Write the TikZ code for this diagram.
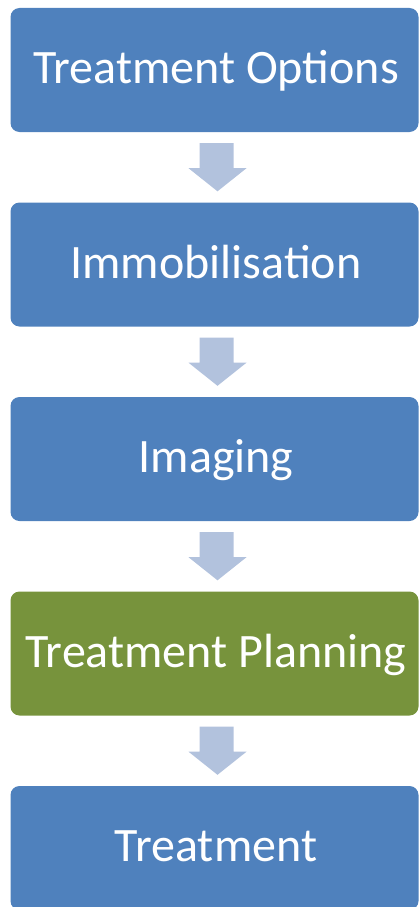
\documentclass[tikz,border=0pt]{standalone}
\usepackage{fontspec}
\setmainfont{Carlito}
\usetikzlibrary{calc}
\definecolor{stepblue}{RGB}{79,129,189}
\definecolor{stepgreen}{RGB}{119,147,60}
\definecolor{arrowblue}{RGB}{178,194,221}

\begin{document}
\begin{tikzpicture}[x=1pt,y=-1pt]
        \useasboundingbox (0,0) rectangle (419,907);
        \begin{scope}[every node/.style={rounded corners=9pt,fill=stepblue,text=white,inner sep=0pt,
                minimum width=408pt,minimum height=124pt,text height=31pt,text depth=4pt,
                font=\fontsize{48}{58}\selectfont}]
            \node (s1) at (214.5,70.0)  {\hspace{3pt}Treatment Options};
            \node (s2) at (214.5,264.5) {\hspace{3pt}Immobilisation};
            \node (s3) at (214.5,459.0) {\hspace{3pt}Imaging};
            \node[fill=stepgreen] (s4) at (214.5,653.5) {\hspace{3pt}Treatment Planning};
            \node (s5) at (214.5,848.0) {\hspace{3pt}Treatment};
        \end{scope}
        \begin{scope}[fill=arrowblue]
            \foreach \a/\b in {s1/s2,s2/s3,s3/s4,s4/s5} {
                \fill ($(\a.south)+(-15,11)$) -- ($(\a.south)+(19,11)$) -- ($(\a.south)+(19,36)$)
                    -- ($(\a.south)+(32,36)$) -- ($(\b.north)+(3,-11)$) -- ($(\a.south)+(-26,36)$)
                    -- ($(\a.south)+(-15,36)$) -- cycle;
            }
        \end{scope}
    \end{tikzpicture}
\end{document}
